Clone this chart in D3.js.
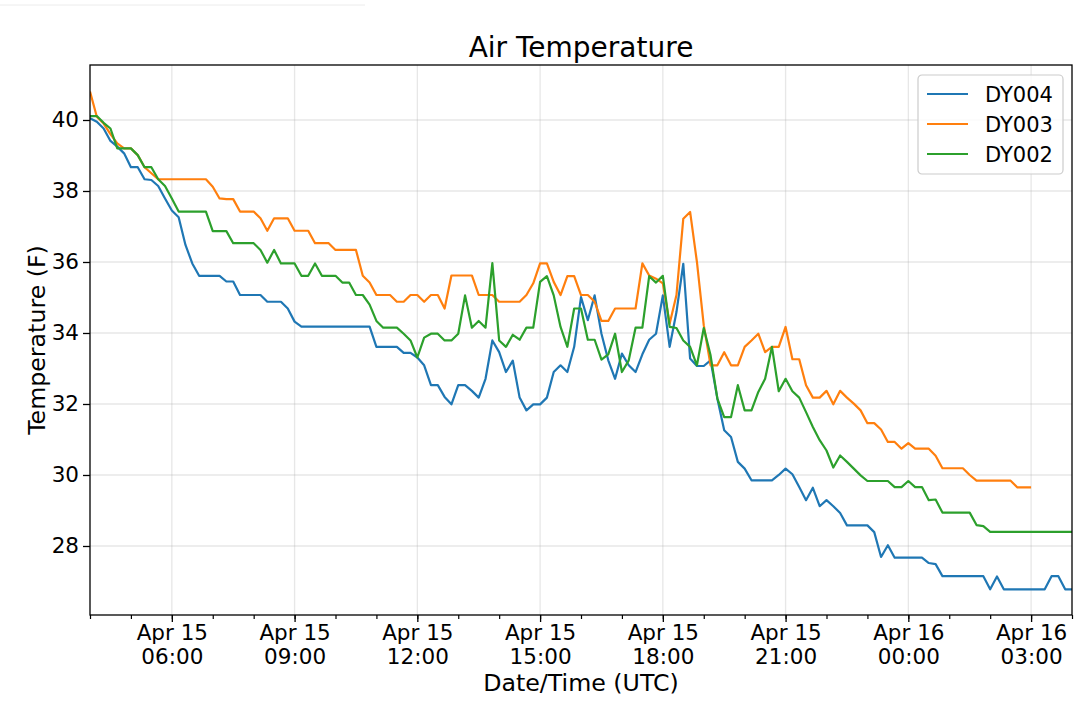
<!DOCTYPE html>
<html>
<head>
<meta charset="utf-8">
<script src="https://cdn.jsdelivr.net/npm/d3@7"></script>
<style>
  body { margin: 0; background: #fff; }
  svg { display: block; font-family: "DejaVu Sans", sans-serif; }
</style>
</head>
<body>
<div id="chart"></div>
<script>
// readings every 10 minutes starting Apr 15 04:00 UTC
const startTime = new Date(Date.UTC(2019, 3, 15, 4, 0))
const stepMinutes = 10

const dy004 = [40.05, 39.95, 39.76, 39.41, 39.25, 39.06, 38.67, 38.67, 38.33, 38.31,
  38.14, 37.79, 37.45, 37.26, 36.48, 35.96, 35.61, 35.61, 35.61, 35.61,
  35.45, 35.45, 35.07, 35.07, 35.07, 35.07, 34.88, 34.88, 34.88, 34.69,
  34.32, 34.18, 34.18, 34.18, 34.18, 34.18, 34.18, 34.18, 34.18, 34.18,
  34.18, 34.18, 33.61, 33.61, 33.61, 33.61, 33.44, 33.44, 33.31, 33.09,
  32.53, 32.53, 32.20, 31.99, 32.53, 32.53, 32.37, 32.18, 32.71, 33.79,
  33.46, 32.90, 33.22, 32.18, 31.82, 31.99, 31.99, 32.18, 32.90, 33.09,
  32.90, 33.61, 35.01, 34.36, 35.06, 33.98, 33.23, 32.71, 33.42, 33.09,
  32.90, 33.40, 33.81, 33.98, 35.06, 33.61, 34.59, 35.95, 33.28, 33.07,
  33.07, 33.23, 32.15, 31.26, 31.07, 30.37, 30.18, 29.85, 29.85, 29.85,
  29.85, 30.00, 30.18, 30.02, 29.66, 29.29, 29.64, 29.12, 29.29, 29.12,
  28.93, 28.58, 28.58, 28.58, 28.58, 28.39, 27.69, 28.02, 27.67, 27.67,
  27.67, 27.67, 27.67, 27.52, 27.49, 27.15, 27.15, 27.15, 27.15, 27.15,
  27.15, 27.15, 26.78, 27.14, 26.78, 26.78, 26.78, 26.78, 26.78, 26.78,
  26.78, 27.15, 27.15, 26.78, 26.78]

const dy003 = [40.80, 40.09, 39.90, 39.60, 39.34, 39.20, 39.20, 39.01, 38.67, 38.50,
  38.33, 38.33, 38.33, 38.33, 38.33, 38.33, 38.33, 38.33, 38.12, 37.79,
  37.77, 37.77, 37.42, 37.42, 37.42, 37.23, 36.88, 37.23, 37.23, 37.23,
  36.88, 36.88, 36.88, 36.53, 36.53, 36.53, 36.34, 36.34, 36.34, 36.34,
  35.61, 35.42, 35.07, 35.07, 35.07, 34.88, 34.88, 35.07, 35.07, 34.88,
  35.07, 35.07, 34.69, 35.62, 35.62, 35.62, 35.62, 35.07, 35.07, 35.07,
  34.88, 34.88, 34.88, 34.88, 35.07, 35.40, 35.96, 35.96, 35.44, 35.07,
  35.60, 35.60, 35.07, 35.07, 34.88, 34.34, 34.34, 34.69, 34.69, 34.69,
  34.69, 35.96, 35.62, 35.53, 35.40, 34.26, 35.07, 37.22, 37.41, 36.00,
  34.22, 33.09, 33.09, 33.46, 33.09, 33.09, 33.61, 33.79, 33.98, 33.46,
  33.61, 33.61, 34.17, 33.26, 33.26, 32.53, 32.18, 32.18, 32.37, 31.99,
  32.37, 32.18, 32.01, 31.82, 31.46, 31.46, 31.28, 30.93, 30.93, 30.74,
  30.90, 30.74, 30.74, 30.74, 30.54, 30.19, 30.19, 30.19, 30.19, 30.00,
  29.84, 29.84, 29.84, 29.84, 29.84, 29.84, 29.65, 29.65, 29.65]

const dy002 = [40.11, 40.11, 39.92, 39.76, 39.20, 39.20, 39.20, 39.01, 38.67, 38.67,
  38.33, 38.14, 37.79, 37.42, 37.42, 37.42, 37.42, 37.42, 36.87, 36.87,
  36.87, 36.53, 36.53, 36.53, 36.53, 36.34, 35.98, 36.34, 35.96, 35.96,
  35.96, 35.61, 35.61, 35.96, 35.61, 35.61, 35.61, 35.42, 35.42, 35.07,
  35.07, 34.80, 34.34, 34.15, 34.15, 34.15, 33.98, 33.79, 33.31, 33.87,
  33.98, 33.98, 33.79, 33.79, 33.98, 35.06, 34.15, 34.34, 34.15, 35.97,
  33.79, 33.61, 33.95, 33.81, 34.15, 34.15, 35.44, 35.60, 35.06, 34.17,
  33.61, 34.69, 34.69, 33.81, 33.81, 33.25, 33.40, 33.98, 32.90, 33.23,
  34.15, 34.15, 35.60, 35.42, 35.61, 34.17, 34.14, 33.79, 33.61, 33.09,
  34.14, 33.37, 32.15, 31.63, 31.63, 32.53, 31.82, 31.82, 32.34, 32.71,
  33.61, 32.36, 32.71, 32.36, 32.18, 31.77, 31.35, 30.98, 30.69, 30.21,
  30.55, 30.37, 30.18, 29.99, 29.83, 29.83, 29.83, 29.83, 29.66, 29.66,
  29.83, 29.66, 29.66, 29.29, 29.31, 28.94, 28.94, 28.94, 28.94, 28.94,
  28.59, 28.56, 28.40, 28.40, 28.40, 28.40, 28.40, 28.40, 28.40, 28.40,
  28.40, 28.40, 28.40, 28.40, 28.40]

const seriesNames = ["DY004", "DY003", "DY002"]
const seriesColors = ["#1f77b4", "#ff7f0e", "#2ca02c"]
const yTicks = [28, 30, 32, 34, 36, 38, 40]

const width = 1080
const height = 714
const margin = {top: 65, right: 8, bottom: 99, left: 90}

const svg = d3.select("#chart")
    .append("svg")
    .attr("width", width)
    .attr("height", height)

// faint line at the top-left of the page
svg.append("line")
    .attr("x1", 0).attr("x2", 365)
    .attr("y1", 5).attr("y2", 5)
    .attr("stroke", "#ececec")
    .attr("stroke-width", 1)

const x = d3.scaleUtc()
    .domain([startTime, d3.utcHour.offset(startTime, 24)])
    .range([margin.left, width - margin.right])

const y = d3.scaleLinear()
    .domain([26.056, 41.549])
    .range([height - margin.bottom, margin.top])

const timeOf = i => d3.utcMinute.offset(startTime, i * stepMinutes)

const series = [dy004, dy003, dy002].map((vals, k) => ({
    name: seriesNames[k],
    color: seriesColors[k],
    points: vals.map((v, i) => ({t: timeOf(i), v: v}))
}))

const majorTicks = x.ticks(d3.utcHour.every(3))
const minorTicks = x.ticks(d3.utcHour.every(1))

// grid
const grid = svg.append("g")
    .attr("stroke", "#b0b0b0")
    .attr("stroke-opacity", 0.3)
    .attr("stroke-width", 1.3)
grid.selectAll(".gx")
    .data(majorTicks)
    .join("line")
    .attr("x1", d => x(d)).attr("x2", d => x(d))
    .attr("y1", margin.top).attr("y2", height - margin.bottom)
grid.selectAll(".gy")
    .data(yTicks)
    .join("line")
    .attr("x1", margin.left).attr("x2", width - margin.right)
    .attr("y1", d => y(d)).attr("y2", d => y(d))

// lines
const line = d3.line()
    .x(d => x(d.t))
    .y(d => y(d.v))

svg.append("defs").append("clipPath")
    .attr("id", "clip")
    .append("rect")
    .attr("x", margin.left).attr("y", margin.top)
    .attr("width", width - margin.left - margin.right)
    .attr("height", height - margin.top - margin.bottom)

svg.append("g")
    .attr("clip-path", "url(#clip)")
    .selectAll("path")
    .data(series)
    .join("path")
    .attr("fill", "none")
    .attr("stroke", d => d.color)
    .attr("stroke-width", 2.2)
    .attr("stroke-linejoin", "round")
    .attr("d", d => line(d.points))

// axes
const fmtDay = d3.utcFormat("%b %d")
const fmtTime = d3.utcFormat("%H:%M")

const xMinor = svg.append("g")
    .attr("transform", `translate(0,${height - margin.bottom})`)
    .call(d3.axisBottom(x).tickValues(minorTicks).tickSize(4).tickFormat(""))
xMinor.select(".domain").remove()
xMinor.selectAll("line").attr("stroke-width", 1.2)

const xAxis = svg.append("g")
    .attr("transform", `translate(0,${height - margin.bottom})`)
    .call(d3.axisBottom(x).tickValues(majorTicks).tickSize(7).tickPadding(4))
xAxis.select(".domain").remove()
xAxis.selectAll("line").attr("stroke-width", 1.3)
xAxis.selectAll("text")
    .attr("font-size", 21.5)
    .attr("font-family", "DejaVu Sans")
    .attr("fill", "#000")
    .each(function(d) {
        const t = d3.select(this)
        t.text(null)
        t.append("tspan").attr("x", 0).attr("dy", "0.66em").text(fmtDay(d))
        t.append("tspan").attr("x", 0).attr("dy", "1.13em").text(fmtTime(d))
    })

const yAxis = svg.append("g")
    .attr("transform", `translate(${margin.left},0)`)
    .call(d3.axisLeft(y).tickValues(yTicks).tickSize(7).tickPadding(4))
yAxis.select(".domain").remove()
yAxis.selectAll("line").attr("stroke-width", 1.3)
yAxis.selectAll("text")
    .attr("font-size", 21.5)
    .attr("font-family", "DejaVu Sans")
    .attr("fill", "#000")

// frame
svg.append("rect")
    .attr("x", margin.left).attr("y", margin.top)
    .attr("width", width - margin.left - margin.right)
    .attr("height", height - margin.top - margin.bottom)
    .attr("fill", "none")
    .attr("stroke", "#000")
    .attr("stroke-width", 1.3)

// titles
svg.append("text")
    .attr("x", (margin.left + width - margin.right) / 2)
    .attr("y", 57)
    .attr("text-anchor", "middle")
    .attr("font-size", 28)
    .text("Air Temperature")

svg.append("text")
    .attr("x", (margin.left + width - margin.right) / 2)
    .attr("y", 691)
    .attr("text-anchor", "middle")
    .attr("font-size", 23.7)
    .text("Date/Time (UTC)")

svg.append("text")
    .attr("transform", `translate(45,${(margin.top + height - margin.bottom) / 2}) rotate(-90)`)
    .attr("text-anchor", "middle")
    .attr("font-size", 23.7)
    .text("Temperature (F)")

// legend
const legend = svg.append("g")
    .attr("transform", "translate(918,75)")
legend.append("rect")
    .attr("width", 145).attr("height", 99)
    .attr("rx", 4)
    .attr("fill", "#fff")
    .attr("fill-opacity", 0.8)
    .attr("stroke", "#cccccc")
    .attr("stroke-width", 1.2)
const item = legend.selectAll(".item")
    .data(series)
    .join("g")
    .attr("transform", (d, i) => `translate(0,${19 + i * 30})`)
item.append("line")
    .attr("x1", 9).attr("x2", 50)
    .attr("stroke", d => d.color)
    .attr("stroke-width", 2.2)
item.append("text")
    .attr("x", 67).attr("y", 7.5)
    .attr("font-size", 21)
    .text(d => d.name)
</script>
</body>
</html>
